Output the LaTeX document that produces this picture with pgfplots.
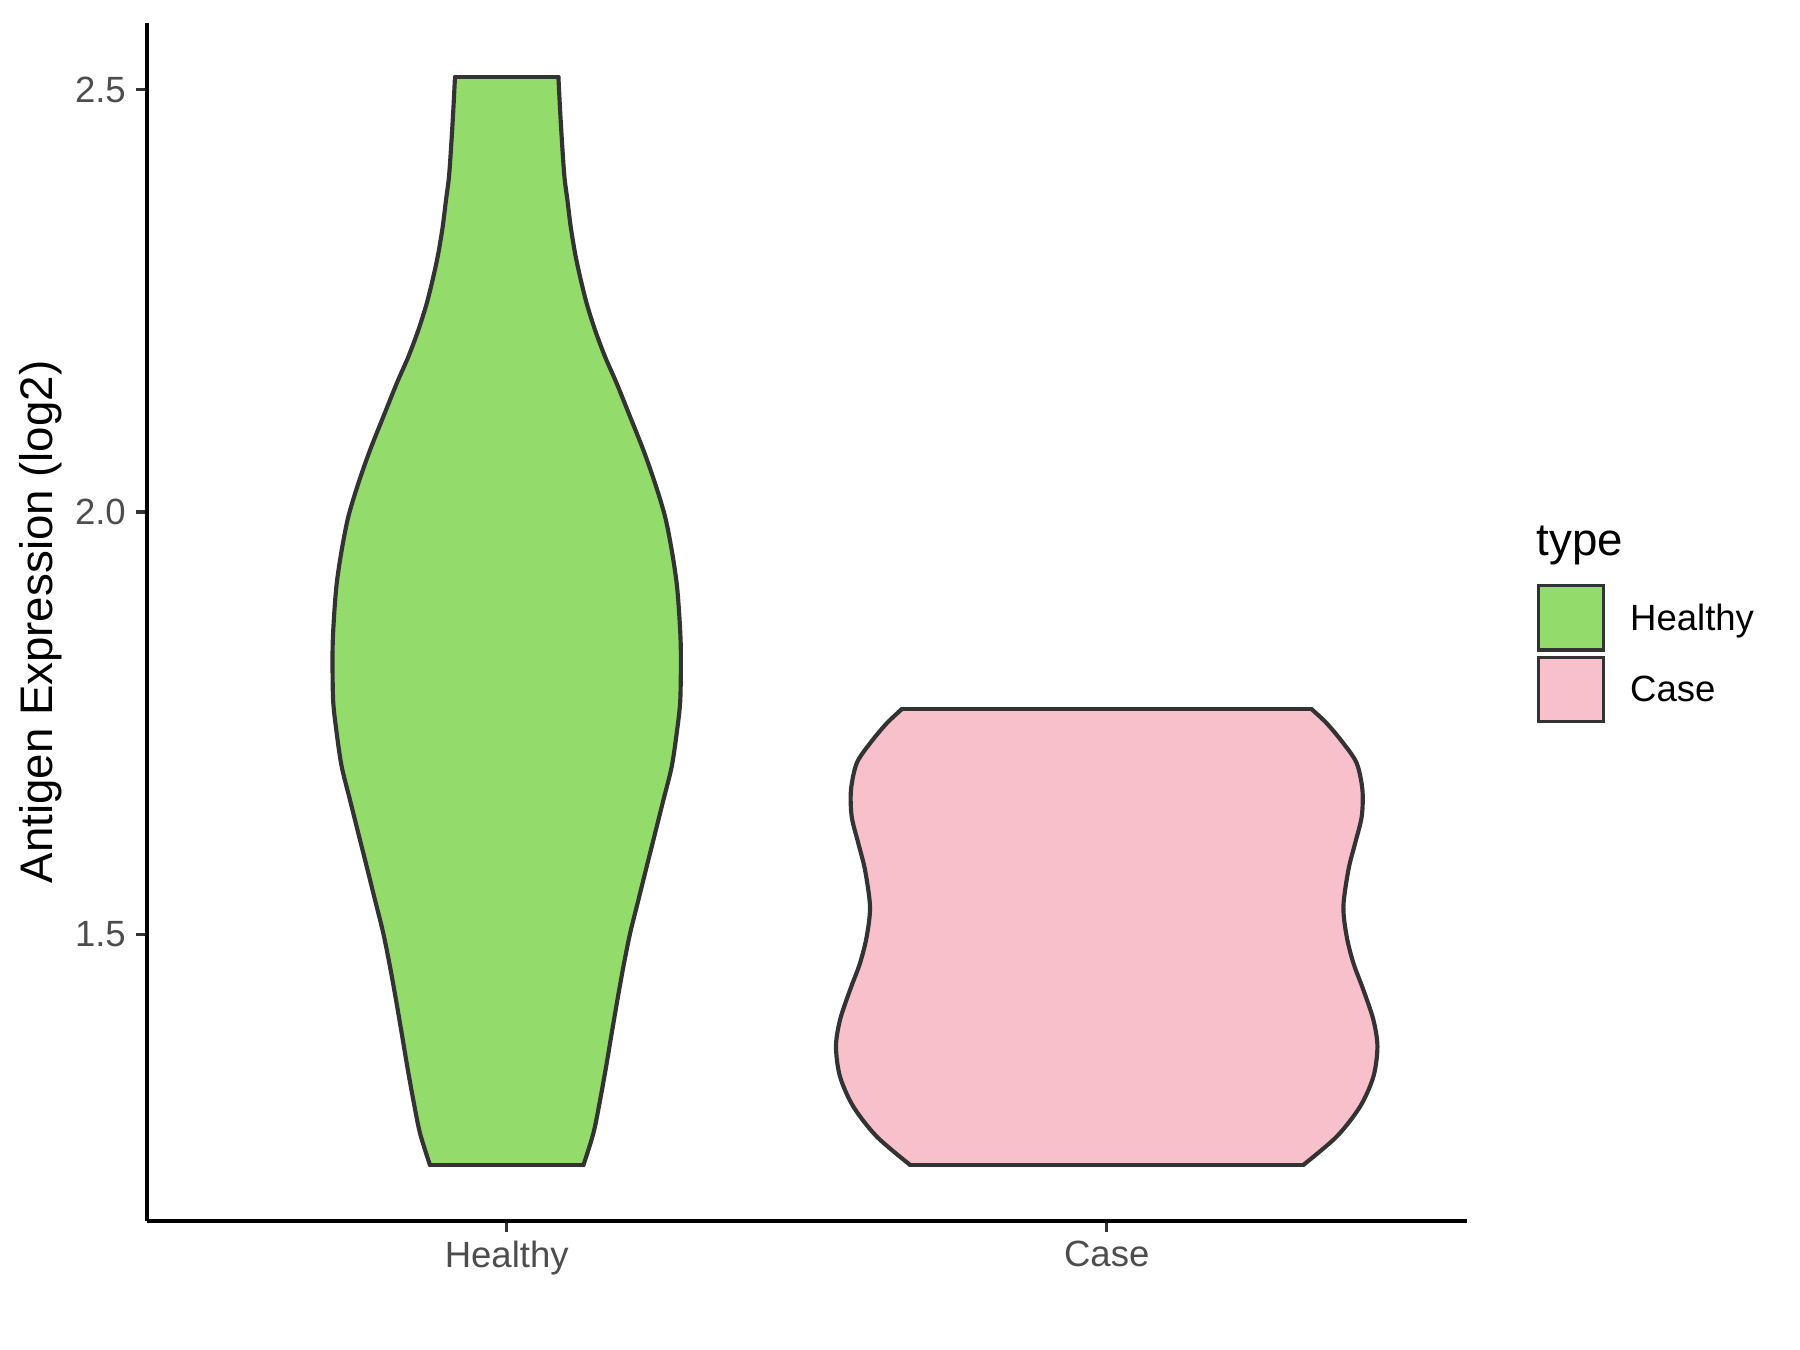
\documentclass[border=0pt]{standalone}
\usepackage{fontspec}
\setmainfont{Liberation Sans}
\usepackage{pgfplots}
\usepackage{pgfplotstable}
\pgfplotsset{compat=1.18}
\definecolor{hgreen}{HTML}{93DB6A}
\definecolor{cpink}{HTML}{F7C0CB}
\definecolor{grey20}{HTML}{333333}
\definecolor{grey30}{HTML}{4D4D4D}
\pgfplotsset{vline/.style={draw=grey20, line width=1pt, line cap=round, line join=round, mark=none}}
% half-widths (x units) of each violin against the value (y)
\pgfplotstableread{
y hw
1.227 0.128
1.2645 0.1445
1.3039 0.1557
1.3434 0.1657
1.3828 0.175
1.4223 0.1845
1.4617 0.1945
1.5012 0.2057
1.5406 0.2195
1.5801 0.2333
1.6195 0.2473
1.6590 0.2612
1.6984 0.275
1.7379 0.2833
1.7773 0.2893
1.8365 0.2902
1.8759 0.2878
1.9154 0.2833
1.9548 0.275
1.9942 0.264
2.0337 0.2473
2.0731 0.2278
2.1125 0.2057
2.1521 0.1833
2.1835 0.164
2.2151 0.1473
2.2467 0.1333
2.2782 0.1223
2.3059 0.114
2.3374 0.1067
2.369 0.1012
2.3966 0.0962
2.436 0.0923
2.4755 0.089
2.5146 0.0862
}\healthy
\pgfplotstableread{
y hw
1.227 0.3278
1.2605 0.3833
1.296 0.4223
1.3315 0.4445
1.367 0.4512
1.3986 0.4445
1.4341 0.4278
1.4657 0.4112
1.4972 0.400
1.5327 0.3945
1.5761 0.4028
1.6077 0.414
1.6392 0.425
1.6708 0.4262
1.7024 0.4167
1.726 0.3945
1.7497 0.3667
1.7663 0.3417
}\casetab
\begin{document}
\begin{tikzpicture}
\path[use as bounding box] (0,0) rectangle (433.62pt,325.215pt);
\begin{axis}[
  at={(35.34pt,31.08pt)}, anchor=south west,
  scale only axis, width=317.99pt, height=288.6pt,
  xmin=0.4, xmax=2.6, ymin=1.1606, ymax=2.5787,
  axis x line=bottom, axis y line=left,
  axis line style={-, line width=1pt, black},
  xtick={1,2}, xticklabels={Healthy,Case},
  ytick={1.5,2.0,2.5},
  yticklabel style={/pgf/number format/fixed, /pgf/number format/fixed zerofill, /pgf/number format/precision=1, xshift=1.1pt},
  xticklabel style={yshift=1.4pt},
  /pgf/number format/assume math mode=true,
  tick align=outside, tick style={grey20, line width=0.8pt},
  major tick length=2.6pt,
  tick label style={font=\fontsize{8.8}{10.5}\selectfont, text=grey30},
  ylabel={Antigen Expression (log2)},
  every axis y label/.style={at={(axis description cs:-0.0801,0.5)}, rotate=90, anchor=center, font=\fontsize{11}{13}\selectfont},
  clip=false,
]
% Healthy violin fill
\addplot[fill=hgreen, draw=none] coordinates {
(0.872,1.227) (0.8555,1.2645) (0.8443,1.3039) (0.8343,1.3434) (0.825,1.3828)
(0.8155,1.4223) (0.8055,1.4617) (0.7943,1.5012) (0.7805,1.5406) (0.7667,1.5801)
(0.7527,1.6195) (0.7388,1.6590) (0.725,1.6984) (0.7167,1.7379) (0.7107,1.7773)
(0.7098,1.8365) (0.7122,1.8759) (0.7167,1.9154) (0.725,1.9548) (0.736,1.9942)
(0.7527,2.0337) (0.7722,2.0731) (0.7943,2.1125) (0.8167,2.1521) (0.836,2.1835)
(0.8527,2.2151) (0.8667,2.2467) (0.8777,2.2782) (0.886,2.3059) (0.8933,2.3374)
(0.8988,2.369) (0.9038,2.3966) (0.9077,2.436) (0.911,2.4755) (0.9138,2.5146)
(1.0862,2.5146) (1.089,2.4755) (1.0923,2.436) (1.0962,2.3966) (1.1012,2.369)
(1.1067,2.3374) (1.114,2.3059) (1.1223,2.2782) (1.1333,2.2467) (1.1473,2.2151)
(1.164,2.1835) (1.1833,2.1521) (1.2057,2.1125)
(1.2278,2.0731) (1.2473,2.0337) (1.264,1.9942) (1.275,1.9548) (1.2833,1.9154)
(1.2878,1.8759) (1.2902,1.8365) (1.2893,1.7773) (1.2833,1.7379) (1.275,1.6984)
(1.2612,1.6590) (1.2473,1.6195) (1.2333,1.5801) (1.2195,1.5406) (1.2057,1.5012)
(1.1945,1.4617) (1.1845,1.4223) (1.175,1.3828) (1.1657,1.3434) (1.1557,1.3039)
(1.1445,1.2645) (1.128,1.227)
} -- cycle;
% Case violin fill
\addplot[fill=cpink, draw=none] coordinates {
(1.6722,1.227) (1.6167,1.2605) (1.5777,1.296) (1.5555,1.3315) (1.5488,1.367)
(1.5555,1.3986) (1.5722,1.4341) (1.5888,1.4657) (1.600,1.4972) (1.6055,1.5327)
(1.5972,1.5761) (1.586,1.6077) (1.575,1.6392) (1.5738,1.6708) (1.5833,1.7024)
(1.6055,1.726) (1.6333,1.7497) (1.6583,1.7663)
(2.3417,1.7663) (2.3667,1.7497) (2.3945,1.726) (2.4167,1.7024) (2.4262,1.6708)
(2.425,1.6392) (2.414,1.6077) (2.4028,1.5761) (2.3945,1.5327) (2.400,1.4972)
(2.4112,1.4657) (2.4278,1.4341) (2.4445,1.3986) (2.4512,1.367) (2.4445,1.3315)
(2.4223,1.296) (2.3833,1.2605) (2.3278,1.227)
} -- cycle;
% outlines
\addplot[vline, smooth] table[x expr=1-\thisrow{hw}, y=y] {\healthy};
\addplot[vline, smooth] table[x expr=1+\thisrow{hw}, y=y] {\healthy};
\addplot[vline] coordinates {(0.9138,2.5146) (1.0862,2.5146)};
\addplot[vline] coordinates {(0.872,1.227) (1.128,1.227)};
\addplot[vline, smooth] table[x expr=2-\thisrow{hw}, y=y] {\casetab};
\addplot[vline, smooth] table[x expr=2+\thisrow{hw}, y=y] {\casetab};
\addplot[vline] coordinates {(1.6583,1.7663) (2.3417,1.7663)};
\addplot[vline] coordinates {(1.6722,1.227) (2.3278,1.227)};
\end{axis}
\node[anchor=base west, inner sep=0pt, font=\fontsize{11}{13}\selectfont] at (370.0pt,191.5pt) {type};
\draw[fill=hgreen, draw=grey20, line width=0.8pt] (370.7pt,168.6pt) rectangle (386.3pt,184.1pt);
\draw[fill=cpink, draw=grey20, line width=0.8pt] (370.7pt,151.4pt) rectangle (386.3pt,166.9pt);
\node[anchor=base west, inner sep=0pt, font=\fontsize{8.8}{10.5}\selectfont] at (392.5pt,173.4pt) {Healthy};
\node[anchor=base west, inner sep=0pt, font=\fontsize{8.8}{10.5}\selectfont] at (392.5pt,156.2pt) {Case};
\end{tikzpicture}
\end{document}
